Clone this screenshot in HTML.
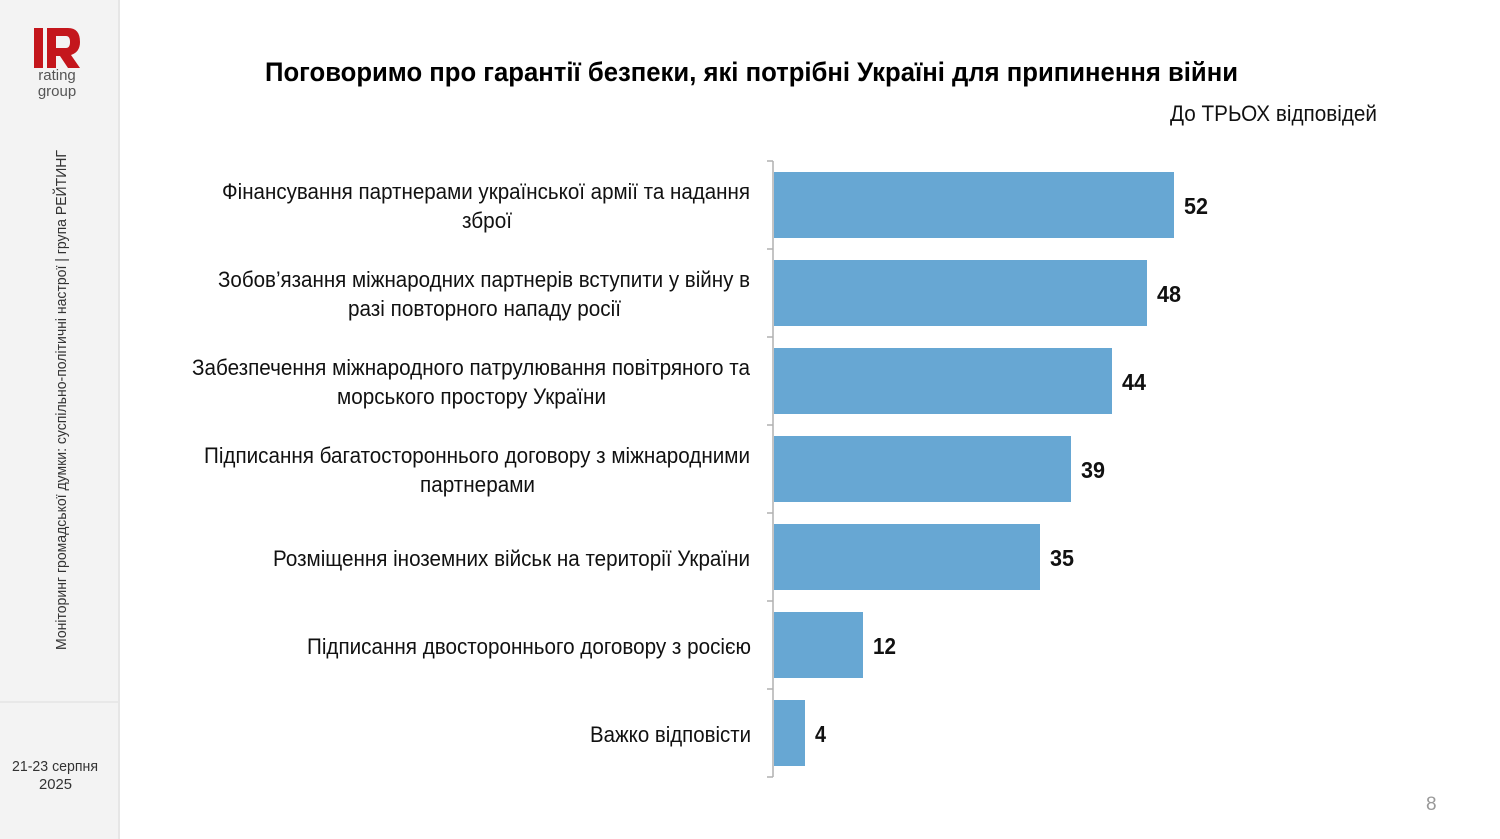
<!DOCTYPE html>
<html><head><meta charset="utf-8"><style>
body{margin:0;width:1500px;height:839px;overflow:hidden;background:#fff}
svg{display:block}
text{font-family:"Liberation Sans",sans-serif}
</style></head><body>
<svg width="1500" height="839" viewBox="0 0 1500 839">
<rect x="0" y="0" width="118" height="839" fill="#f3f3f3"/>
<rect x="118" y="0" width="2" height="839" fill="#e6e6e6"/>
<line x1="0" y1="702" x2="118" y2="702" stroke="#dcdcdc" stroke-width="1"/>
<!-- logo -->
<rect x="34" y="28" width="9" height="40" fill="#c4161c"/>
<path d="M47 28 H68 Q80 28 80 42 Q80 52 71 55 L80 68 H68 L60 56 H56 V68 H47 Z M56 36 V48 H66 Q70 48 70 42 Q70 36 66 36 Z" fill="#c4161c"/>
<text x="57" y="80" font-size="15" fill="#555" text-anchor="middle">rating</text>
<text x="57" y="96" font-size="15" fill="#555" text-anchor="middle">group</text>
<text transform="translate(66,650) rotate(-90)" font-size="15" fill="#333" textLength="500" lengthAdjust="spacingAndGlyphs">Моніторинг громадської думки: суспільно-політичні настрої | група РЕЙТИНГ</text>
<text x="12" y="771" font-size="15" fill="#333" textLength="86" lengthAdjust="spacingAndGlyphs">21-23 серпня</text>
<text x="39" y="789" font-size="15" fill="#333" textLength="33" lengthAdjust="spacingAndGlyphs">2025</text>
<text x="1426" y="810" font-size="19" fill="#999">8</text>
<text x="265" y="81" font-size="27" font-weight="bold" fill="#000" textLength="973" lengthAdjust="spacingAndGlyphs">Поговоримо про гарантії безпеки, які потрібні Україні для припинення війни</text>
<text x="1170" y="121" font-size="22" fill="#111" textLength="207" lengthAdjust="spacingAndGlyphs">До ТРЬОХ відповідей</text>
<!-- axis -->
<g stroke="#b0b0b0" stroke-width="1.5">
<line x1="773" y1="161" x2="773" y2="777"/>
<line x1="767" y1="161" x2="773" y2="161"/><line x1="767" y1="249" x2="773" y2="249"/>
<line x1="767" y1="337" x2="773" y2="337"/><line x1="767" y1="425" x2="773" y2="425"/>
<line x1="767" y1="513" x2="773" y2="513"/><line x1="767" y1="601" x2="773" y2="601"/>
<line x1="767" y1="689" x2="773" y2="689"/><line x1="767" y1="777" x2="773" y2="777"/>
</g>
<g fill="#67a7d3">
<rect x="774" y="172" width="400" height="66"/>
<rect x="774" y="260" width="373" height="66"/>
<rect x="774" y="348" width="338" height="66"/>
<rect x="774" y="436" width="297" height="66"/>
<rect x="774" y="524" width="266" height="66"/>
<rect x="774" y="612" width="89" height="66"/>
<rect x="774" y="700" width="31" height="66"/>
</g>
<g font-size="23" font-weight="bold" fill="#111">
<text x="1184" y="214" textLength="24" lengthAdjust="spacingAndGlyphs">52</text>
<text x="1157" y="302" textLength="24" lengthAdjust="spacingAndGlyphs">48</text>
<text x="1122" y="390" textLength="24" lengthAdjust="spacingAndGlyphs">44</text>
<text x="1081" y="478" textLength="24" lengthAdjust="spacingAndGlyphs">39</text>
<text x="1050" y="566" textLength="24" lengthAdjust="spacingAndGlyphs">35</text>
<text x="873" y="654" textLength="23" lengthAdjust="spacingAndGlyphs">12</text>
<text x="815" y="742" textLength="11" lengthAdjust="spacingAndGlyphs">4</text>
</g>
<g font-size="22" fill="#111" lengthAdjust="spacingAndGlyphs">
<text x="222" y="199" textLength="528" lengthAdjust="spacingAndGlyphs">Фінансування партнерами української армії та надання</text>
<text x="462" y="228" textLength="50" lengthAdjust="spacingAndGlyphs">зброї</text>
<text x="218" y="287" textLength="532" lengthAdjust="spacingAndGlyphs">Зобов’язання міжнародних партнерів вступити у війну в</text>
<text x="348" y="316" textLength="273" lengthAdjust="spacingAndGlyphs">разі повторного нападу росії</text>
<text x="192" y="375" textLength="558" lengthAdjust="spacingAndGlyphs">Забезпечення міжнародного патрулювання повітряного та</text>
<text x="337" y="404" textLength="269" lengthAdjust="spacingAndGlyphs">морського простору України</text>
<text x="204" y="463" textLength="546" lengthAdjust="spacingAndGlyphs">Підписання багатостороннього договору з міжнародними</text>
<text x="420" y="492" textLength="115" lengthAdjust="spacingAndGlyphs">партнерами</text>
<text x="273" y="566" textLength="477" lengthAdjust="spacingAndGlyphs">Розміщення іноземних військ на території України</text>
<text x="307" y="654" textLength="444" lengthAdjust="spacingAndGlyphs">Підписання двостороннього договору з росією</text>
<text x="590" y="742" textLength="161" lengthAdjust="spacingAndGlyphs">Важко відповісти</text>
</g>
</svg>
</body></html>
